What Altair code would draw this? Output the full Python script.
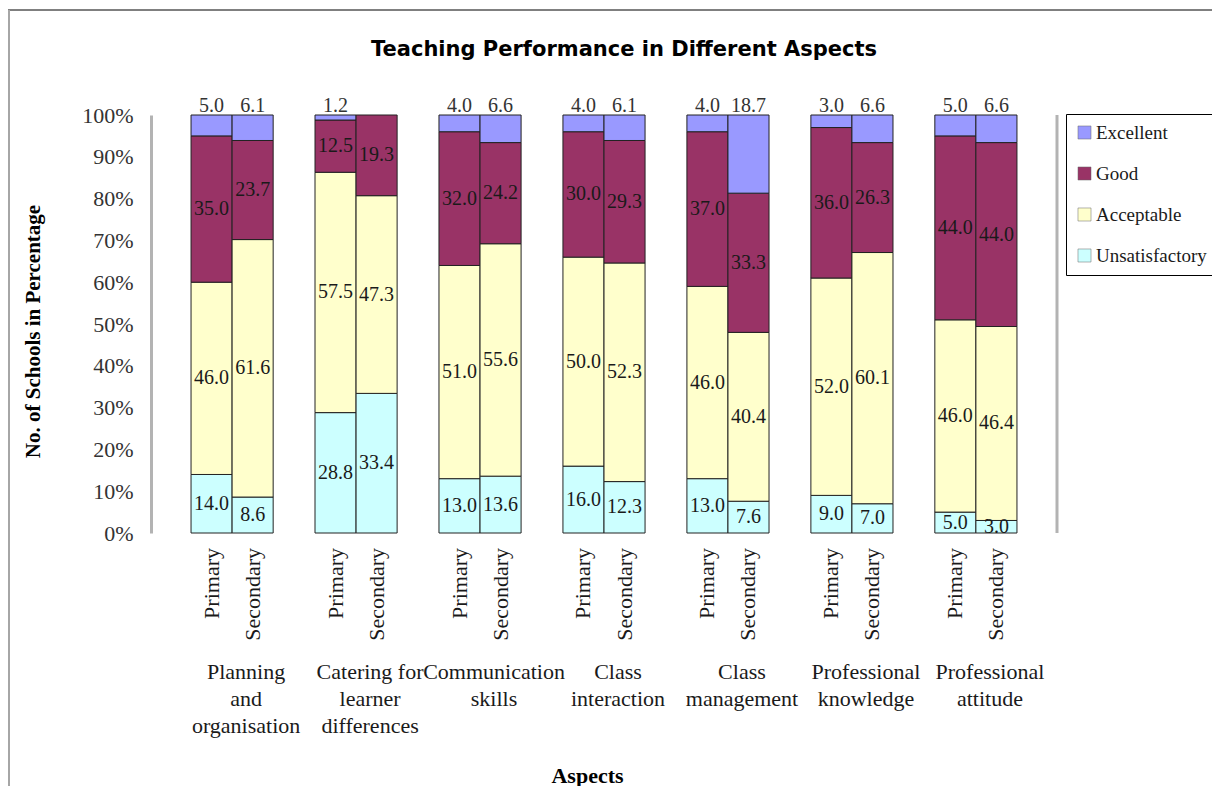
import altair as alt
import pandas as pd

# ---- data ----
aspects = [
    "Planning\nand\norganisation",
    "Catering for\nlearner\ndifferences",
    "Communication\nskills",
    "Class\ninteraction",
    "Class\nmanagement",
    "Professional\nknowledge",
    "Professional\nattitude",
]
levels = ["Primary", "Secondary"]
ratings = ["Unsatisfactory", "Acceptable", "Good", "Excellent"]
legend_order = ["Excellent", "Good", "Acceptable", "Unsatisfactory"]
legend_colors = ["#9999FF", "#993366", "#FFFFCC", "#CCFFFF"]

unsat_primary = [14.0, 28.8, 13.0, 16.0, 13.0, 9.0, 5.0]
unsat_secondary = [8.6, 33.4, 13.6, 12.3, 7.6, 7.0, 3.0]
accept_primary = [46.0, 57.5, 51.0, 50.0, 46.0, 52.0, 46.0]
accept_secondary = [61.6, 47.3, 55.6, 52.3, 40.4, 60.1, 46.4]
good_primary = [35.0, 12.5, 32.0, 30.0, 37.0, 36.0, 44.0]
good_secondary = [23.7, 19.3, 24.2, 29.3, 33.3, 26.3, 44.0]
excel_primary = [5.0, 1.2, 4.0, 4.0, 4.0, 3.0, 5.0]
excel_secondary = [6.1, 0.0, 6.6, 6.1, 18.7, 6.6, 6.6]

series = {
    ("Unsatisfactory", "Primary"): unsat_primary,
    ("Unsatisfactory", "Secondary"): unsat_secondary,
    ("Acceptable", "Primary"): accept_primary,
    ("Acceptable", "Secondary"): accept_secondary,
    ("Good", "Primary"): good_primary,
    ("Good", "Secondary"): good_secondary,
    ("Excellent", "Primary"): excel_primary,
    ("Excellent", "Secondary"): excel_secondary,
}

rows = []
for i, a in enumerate(aspects):
    for lv in levels:
        for r, rt in enumerate(ratings):
            rows.append({"aspect": a, "level": lv, "rating": rt, "rank": r,
                         "value": series[(rt, lv)][i]})
df = pd.DataFrame(rows)

SERIF = "Liberation Serif"

xscale = alt.Scale(domain=aspects, paddingInner=0.3376, paddingOuter=0.323)
xoff = alt.Scale(domain=levels, paddingInner=0, paddingOuter=0)
yscale = alt.Scale(domain=[0, 100], nice=False)

base = (
    alt.Chart(df)
    .transform_filter("datum.value > 0")
    .transform_stack(stack="value", as_=["y0", "y1"], groupby=["aspect", "level"],
                     sort=[alt.SortField("rank", order="ascending")])
    .transform_calculate(mid="(datum.y0 + datum.y1) / 2")
)

bars = base.mark_bar(stroke="#222222", strokeWidth=1).encode(
    x=alt.X("aspect:N", scale=xscale,
            axis=alt.Axis(labels=False, ticks=False, domain=False, title="Aspects",
                          titleFont=SERIF, titleFontSize=22, titleFontWeight="bold",
                          titleColor="black", titlePadding=232, titleX=436)),
    xOffset=alt.XOffset("level:N", scale=xoff),
    y=alt.Y("y0:Q", scale=yscale, title="No. of Schools in Percentage",
            axis=alt.Axis(values=list(range(0, 101, 10)), labelExpr="datum.value + '%'",
                          ticks=False, grid=False, domainColor="#b3b3b3", domainWidth=3,
                          labelFont=SERIF, labelFontSize=22, labelColor="#333333",
                          labelPadding=18, titleFont=SERIF, titleFontSize=21,
                          titleFontWeight="bold", titleColor="black", titlePadding=38,
                          titleY=216)),
    y2="y1:Q",
    color=alt.Color("rating:N", scale=alt.Scale(domain=legend_order, range=legend_colors),
                    legend=alt.Legend(title=None, orient="none", legendX=915, legendY=-1)),
)

inner_text = base.transform_filter("datum.rating != 'Excellent'").mark_text(
    font=SERIF, fontSize=20, color="#1a1a1a", baseline="middle"
).encode(
    x=alt.X("aspect:N", scale=xscale),
    xOffset=alt.XOffset("level:N", scale=xoff),
    y=alt.Y("mid:Q", scale=yscale),
    text=alt.Text("value:Q", format=".1f"),
)

top_text = base.transform_filter("datum.rating == 'Excellent'").mark_text(
    font=SERIF, fontSize=20, color="#333333", baseline="alphabetic", dy=-3
).encode(
    x=alt.X("aspect:N", scale=xscale),
    xOffset=alt.XOffset("level:N", scale=xoff),
    y=alt.Y("y1:Q", scale=yscale),
    text=alt.Text("value:Q", format=".1f"),
)

label_base = alt.Chart(df).transform_filter("datum.rating == 'Unsatisfactory'")

level_text = label_base.mark_text(
    font=SERIF, fontSize=22, color="#1a1a1a", angle=270, align="right", baseline="middle"
).encode(
    x=alt.X("aspect:N", scale=xscale),
    xOffset=alt.XOffset("level:N", scale=xoff),
    y=alt.value(433),
    text="level:N",
)

aspect_text = label_base.transform_filter("datum.level == 'Primary'").mark_text(
    font=SERIF, fontSize=22, color="#1a1a1a", align="center", baseline="top",
    lineBreak="\n", lineHeight=27, dx=14
).encode(
    x=alt.X("aspect:N", scale=xscale),
    y=alt.value(547),
    text="aspect:N",
)

frame_df = pd.DataFrame({"k": [0]})
right_edge = alt.Chart(frame_df).mark_rule(color="#b3b3b3", strokeWidth=3).encode(
    x=alt.value(906), y=alt.value(0), y2=alt.value(418))
top_border = alt.Chart(frame_df).mark_rule(color="black", strokeWidth=1).encode(
    x=alt.value(-143), x2=alt.value(1061), y=alt.value(-105))
left_border = alt.Chart(frame_df).mark_rule(color="#a6a6a6", strokeWidth=2).encode(
    x=alt.value(-142), y=alt.value(-105), y2=alt.value(671))

chart = (
    alt.layer(bars, inner_text, top_text, level_text, aspect_text,
              right_edge, top_border, left_border)
    .properties(
        width=906, height=418,
        title=alt.Title("Teaching Performance in Different Aspects", font="DejaVu Sans",
                        fontSize=21, fontWeight="bold", anchor="middle", dx=20,
                        offset=-51, color="black"),
        autosize=alt.AutoSizeParams(type="none"),
        padding={"left": 143, "top": 107, "right": 155, "bottom": 253},
    )
    .configure_view(stroke=None)
    .configure_legend(strokeColor="black", padding=9, rowPadding=21, labelFont=SERIF,
                      labelFontSize=19, labelColor="#1a1a1a", symbolType="square",
                      symbolSize=170, symbolStrokeColor="#666666", symbolStrokeWidth=0.5,
                      labelOffset=2, fillColor="white")
)

chart.save("out.html", embed_options={"renderer": "svg", "actions": False})
